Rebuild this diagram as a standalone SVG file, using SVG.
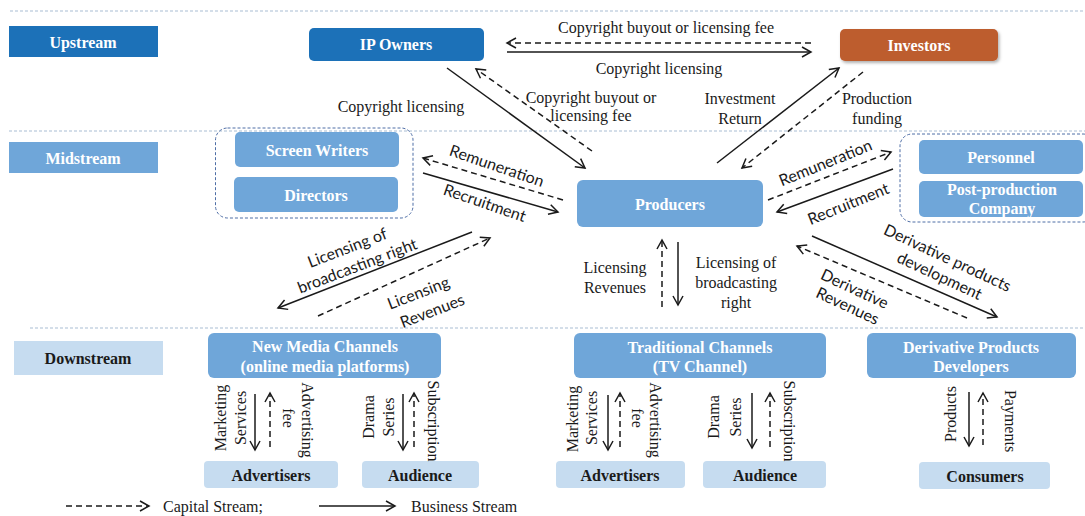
<svg xmlns="http://www.w3.org/2000/svg" width="1085" height="516" viewBox="0 0 1085 516">
<style>
.sep{stroke:#a9bdd3;stroke-width:1;stroke-dasharray:3 2;fill:none}
.grp{stroke:#4f6ea6;stroke-width:1;stroke-dasharray:3 2;fill:none}
.up{fill:#1c71b8}
.mid{fill:#6fa6d9}
.down{fill:#c6dcf0}
.inv{fill:#bd5d2f}
.nt{font-family:"Liberation Serif","Times New Roman",serif;font-weight:bold;font-size:16px;fill:#fff;text-anchor:middle;dominant-baseline:central}
.nd{fill:#1a1a1a}
.lb{font-family:"Liberation Serif","Times New Roman",serif;font-size:16px;fill:#1a1a1a;text-anchor:middle;dominant-baseline:central}
.ls{font-family:Lato,"Open Sans",sans-serif;font-size:16px;fill:#1a1a1a;text-anchor:middle;dominant-baseline:central}
.s{stroke:#1a1a1a;stroke-width:1.5;fill:none;marker-end:url(#ah)}
.d{stroke:#1a1a1a;stroke-width:1.5;fill:none;stroke-dasharray:6 4;marker-end:url(#ah)}
</style>
<defs>
<marker id="ah" markerUnits="userSpaceOnUse" viewBox="-11 -7 13 14" markerWidth="13" markerHeight="14" refX="0" refY="0" orient="auto">
<path d="M-9,-5 L0,0 L-9,5" fill="none" stroke="#1a1a1a" stroke-width="1.5" stroke-dasharray="none"/>
</marker>
<filter id="sh" x="-10%" y="-20%" width="125%" height="150%">
<feDropShadow dx="1.5" dy="2" stdDeviation="1.5" flood-color="#000" flood-opacity="0.3"/>
</filter>
</defs>
<rect width="1085" height="516" fill="#fff"/>
<g id="separators">
<line class="sep" x1="10" y1="11" x2="1085" y2="11"/>
<line class="sep" x1="9" y1="131" x2="1085" y2="131"/>
<line class="sep" x1="30" y1="328" x2="1085" y2="328"/>
</g>
<g id="upstream"><rect class="up" x="9" y="26" width="149" height="31"/><text class="nt" x="83" y="42">Upstream</text></g>
<g id="midstream"><rect class="mid" x="9" y="142" width="149" height="31"/><text class="nt" x="83" y="158">Midstream</text></g>
<g id="downstream"><rect class="down" x="14" y="341" width="149" height="34"/><text class="nt nd" x="88" y="358">Downstream</text></g>
<g id="ip-owners"><rect class="up" x="309" y="28" width="175" height="33" rx="5"/><text class="nt" x="396" y="44">IP Owners</text></g>
<g id="investors"><rect class="inv" x="840" y="29" width="158" height="32" rx="5" filter="url(#sh)"/><text class="nt" x="919" y="45">Investors</text></g>
<g id="creative-group"><rect class="grp" x="215.5" y="128" width="197.5" height="90" rx="12"/></g>
<g id="screen-writers"><rect class="mid" x="235" y="132" width="164" height="35" rx="5"/><text class="nt" x="317" y="150">Screen Writers</text></g>
<g id="directors"><rect class="mid" x="234" y="177" width="164" height="35" rx="5"/><text class="nt" x="316" y="195">Directors</text></g>
<g id="producers"><rect class="mid" x="577" y="180" width="186" height="47" rx="6"/><text class="nt" x="670" y="204">Producers</text></g>
<g id="staff-group"><rect class="grp" x="900" y="134" width="195" height="88" rx="12"/></g>
<g id="personnel"><rect class="mid" x="919" y="140" width="164" height="34" rx="5"/><text class="nt" x="1001" y="157">Personnel</text></g>
<g id="post-production"><rect class="mid" x="919" y="181" width="164" height="36" rx="5"/><text class="nt" x="1002" y="189">Post-production</text><text class="nt" x="1002" y="208">Company</text></g>
<g id="new-media"><rect class="mid" x="208" y="333" width="233" height="45" rx="6"/><text class="nt" x="325" y="346">New Media Channels</text><text class="nt" x="325" y="366">(online media platforms)</text></g>
<g id="traditional"><rect class="mid" x="574" y="333" width="252" height="45" rx="6"/><text class="nt" x="700" y="347">Traditional Channels</text><text class="nt" x="700" y="366">(TV Channel)</text></g>
<g id="derivative-dev"><rect class="mid" x="867" y="333" width="209" height="45" rx="6"/><text class="nt" x="971" y="347">Derivative Products</text><text class="nt" x="971" y="366">Developers</text></g>
<g id="advertisers-1"><rect class="down" x="204" y="461" width="134" height="27" rx="4"/><text class="nt nd" x="271" y="475">Advertisers</text></g>
<g id="audience-1"><rect class="down" x="362" y="461" width="117" height="27" rx="4"/><text class="nt nd" x="420" y="475">Audience</text></g>
<g id="advertisers-2"><rect class="down" x="556" y="461" width="129" height="27" rx="4"/><text class="nt nd" x="620" y="475">Advertisers</text></g>
<g id="audience-2"><rect class="down" x="703" y="461" width="123" height="27" rx="4"/><text class="nt nd" x="765" y="475">Audience</text></g>
<g id="consumers"><rect class="down" x="919" y="462" width="131" height="27" rx="4"/><text class="nt nd" x="985" y="476">Consumers</text></g>
<g id="connectors">
<path class="d" d="M811,43 L507,43"/>
<path class="s" d="M507,52 L811,52"/>
<path class="s" d="M447,68 L585,168"/>
<path class="d" d="M592,151 L476,69"/>
<path class="s" d="M717,163 L839,68"/>
<path class="d" d="M863,72 L742,168"/>
<path class="d" d="M563,200 L423,158"/>
<path class="s" d="M423,173 L558,212"/>
<path class="d" d="M768,200 L891,152"/>
<path class="s" d="M893,169 L777,212"/>
<path class="s" d="M472,232 L278,308"/>
<path class="d" d="M318,316 L490,238"/>
<path class="d" d="M662,307 L662,240"/>
<path class="s" d="M678,242 L678,305"/>
<path class="s" d="M812,236 L997,317"/>
<path class="d" d="M967,318 L797,246"/>
<path class="s" d="M255,394 L255,450"/>
<path class="d" d="M270,447 L270,393"/>
<path class="s" d="M403,394 L403,450"/>
<path class="d" d="M414,447 L414,393"/>
<path class="s" d="M608,395 L608,450"/>
<path class="d" d="M620,447 L620,393"/>
<path class="s" d="M752,393 L752,448"/>
<path class="d" d="M770,447 L770,393"/>
<path class="s" d="M969,392 L969,446"/>
<path class="d" d="M983,445 L983,393"/>
<path class="d" d="M66,506 L149,506"/>
<path class="s" d="M319,506 L395,506"/>
</g>
<g id="labels">
<text class="lb" x="666" y="27">Copyright buyout or licensing fee</text>
<text class="lb" x="659" y="68">Copyright licensing</text>
<text class="lb" x="401" y="106">Copyright licensing</text>
<text class="lb" x="591" y="97">Copyright buyout or</text>
<text class="lb" x="591" y="115">licensing fee</text>
<text class="lb" x="740" y="98">Investment</text>
<text class="lb" x="740" y="118">Return</text>
<text class="lb" x="877" y="98">Production</text>
<text class="lb" x="877" y="118">funding</text>
<text class="lb" x="615" y="267">Licensing</text>
<text class="lb" x="615" y="287">Revenues</text>
<text class="lb" x="736" y="262">Licensing of</text>
<text class="lb" x="736" y="282">broadcasting</text>
<text class="lb" x="736" y="302">right</text>
<text class="ls" transform="translate(497,165) rotate(19)">Remuneration</text>
<text class="ls" transform="translate(485,202) rotate(19)">Recruitment</text>
<text class="ls" transform="translate(825,162) rotate(-22)">Remuneration</text>
<text class="ls" transform="translate(848,203) rotate(-22)">Recruitment</text>
<text class="ls" transform="translate(347,247) rotate(-21)">Licensing of</text>
<text class="ls" transform="translate(357,265) rotate(-21)">broadcasting right</text>
<text class="ls" transform="translate(418,292) rotate(-21)">Licensing</text>
<text class="ls" transform="translate(432,310) rotate(-21)">Revenues</text>
<text class="ls" transform="translate(948,257) rotate(25)">Derivative products</text>
<text class="ls" transform="translate(940,275) rotate(25)">development</text>
<text class="ls" transform="translate(855,288) rotate(25)">Derivative</text>
<text class="ls" transform="translate(848,305) rotate(25)">Revenues</text>
<text class="lb" transform="translate(220,418) rotate(-90)">Marketing</text>
<text class="lb" transform="translate(240,418) rotate(-90)">Services</text>
<text class="lb" transform="translate(307,420) rotate(90)">Advertising</text>
<text class="lb" transform="translate(288,418) rotate(90)">fee</text>
<text class="lb" transform="translate(368,417) rotate(-90)">Drama</text>
<text class="lb" transform="translate(388,417) rotate(-90)">Series</text>
<text class="lb" transform="translate(433,421) rotate(90)">Subscription</text>
<text class="lb" transform="translate(572,419) rotate(-90)">Marketing</text>
<text class="lb" transform="translate(591,418) rotate(-90)">Services</text>
<text class="lb" transform="translate(655,420) rotate(90)">Advertising</text>
<text class="lb" transform="translate(637,418) rotate(90)">fee</text>
<text class="lb" transform="translate(713,417) rotate(-90)">Drama</text>
<text class="lb" transform="translate(735,417) rotate(-90)">Series</text>
<text class="lb" transform="translate(789,421) rotate(90)">Subscription</text>
<text class="lb" transform="translate(950,414) rotate(-90)">Products</text>
<text class="lb" transform="translate(1010,421) rotate(90)">Payments</text>
<text class="lb" x="163" y="506" style="text-anchor:start">Capital Stream;</text>
<text class="lb" x="411" y="506" style="text-anchor:start">Business Stream</text>
</g>
</svg>
